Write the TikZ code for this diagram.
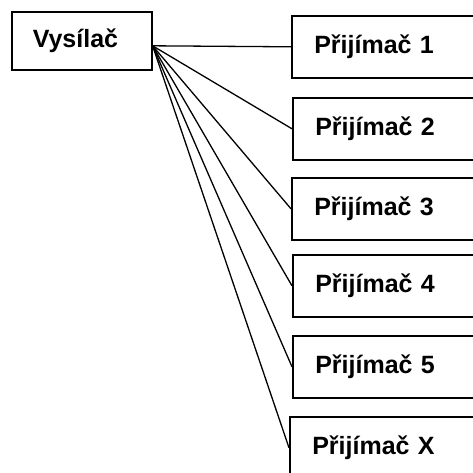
\documentclass[tikz,border=0pt]{standalone}
\usepackage{fontspec}
\setmainfont{Liberation Sans}
\usepackage{tikz}

\begin{document}
\begin{tikzpicture}[
    x=1pt, y=-1pt,
    box/.style={draw, line width=1.6pt, rectangle, font=\fontsize{25}{30}\selectfont\bfseries},
    recv/.style={box, anchor=north west, minimum width=185pt, minimum height=62pt,
        text width=140pt, align=left, inner xsep=22pt},
    link/.style={line width=1.3pt}
]
    \useasboundingbox (0,0) rectangle (473,472);
    % Transmitter
    \node[box, anchor=north west, minimum width=140pt, minimum height=58pt,
        text width=98pt, align=left, inner xsep=21pt] (V) at (11,11) {Vysílač};
    \coordinate (src) at ([yshift=-5pt]V.east);
    % Receivers
    \foreach \n/\x/\y/\t in {1/291/15/1, 2/292/97/2, 3/291/177/3, 4/292/254/4, 5/292/335/5, 6/289/416/X} {
        \node[recv] (R\n) at (\x,\y) {Přijímač \t};
        \draw[link] (src) -- (R\n.west);
    }
\end{tikzpicture}
\end{document}
